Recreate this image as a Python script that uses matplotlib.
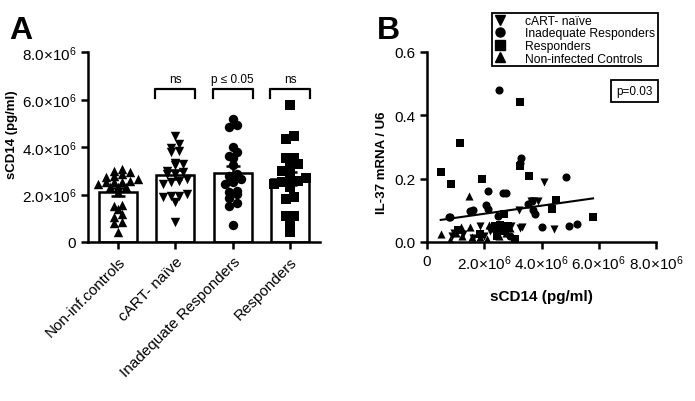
import numpy as np
import matplotlib
matplotlib.use("Agg")
import matplotlib.pyplot as plt
from matplotlib.lines import Line2D

plt.rcParams['font.family'] = ['Liberation Sans', 'DejaVu Sans']
plt.rcParams['mathtext.fontset'] = 'custom'
plt.rcParams['mathtext.rm'] = 'Liberation Sans'
plt.rcParams['mathtext.it'] = 'Liberation Sans:italic'
plt.rcParams['mathtext.bf'] = 'Liberation Sans:bold'

# ---- panel A data (sCD14, pg/ml) ----
groups = ['Non-inf.controls', 'cART- naïve', 'Inadequate Responders', 'Responders']
controls = [3.07e6, 3.00e6, 2.93e6, 2.86e6, 2.79e6, 2.72e6, 2.65e6, 2.58e6, 2.51e6, 2.51e6,
            2.51e6, 2.44e6, 2.30e6, 2.30e6, 2.30e6, 2.09e6, 1.50e6, 1.56e6, 1.39e6, 1.18e6,
            1.04e6, 0.83e6, 0.80e6, 0.43e6]
naive = [4.45e6, 3.94e6, 3.80e6, 3.85e6, 4.13e6, 3.33e6, 3.24e6, 3.28e6, 2.93e6, 2.86e6,
         3.00e6, 2.86e6, 2.58e6, 2.51e6, 2.44e6, 2.65e6, 1.95e6, 1.88e6, 1.67e6, 1.95e6,
         2.02e6, 0.83e6]
inadequate = [4.93e6, 4.83e6, 5.18e6, 3.78e6, 3.52e6, 3.61e6, 3.99e6, 3.24e6, 2.79e6, 2.65e6,
              2.86e6, 2.02e6, 2.16e6, 2.12e6, 2.44e6, 1.84e6, 1.63e6, 1.53e6, 0.72e6, 2.51e6]
responders = [5.77e6, 4.45e6, 4.34e6, 3.52e6, 3.28e6, 3.14e6, 3.52e6, 2.68e6, 2.44e6, 2.30e6,
              2.58e6, 2.58e6, 2.86e6, 3.00e6, 1.81e6, 1.88e6, 1.11e6, 1.08e6, 0.80e6, 0.43e6,
              2.51e6]
group_values = [controls, naive, inadequate, responders]
group_markers = ['^', 'v', 'o', 's']
compare_labels = ['ns', 'p ≤ 0.05', 'ns']

yticks_a = [0, 2e6, 4e6, 6e6, 8e6]
yticklabels_a = ['0', r'2.0$\times10^{6}$', r'4.0$\times10^{6}$', r'6.0$\times10^{6}$', r'8.0$\times10^{6}$']

# ---- panel B data (sCD14 vs IL-37 mRNA / U6) ----
naive_x = [4.10e6, 3.71e6, 3.88e6, 3.62e6, 3.20e6, 3.31e6, 4.44e6, 1.85e6, 0.86e6, 2.20e6,
           3.25e6, 1.25e6, 2.00e6, 2.75e6, 1.60e6, 2.40e6, 0.95e6, 2.95e6]
naive_y = [0.188, 0.128, 0.130, 0.130, 0.100, 0.046, 0.041, 0.052, 0.020, 0.036,
           0.044, 0.025, 0.020, 0.030, 0.012, 0.045, 0.030, 0.050]
inad_x = [2.52e6, 3.28e6, 3.25e6, 4.86e6, 2.14e6, 2.65e6, 2.75e6, 2.06e6, 2.12e6, 1.62e6,
          1.50e6, 3.54e6, 3.66e6, 3.77e6, 4.00e6, 4.97e6, 5.23e6, 0.76e6, 0.82e6, 2.49e6,
          2.90e6, 3.72e6]
inad_y = [0.480, 0.265, 0.250, 0.204, 0.162, 0.155, 0.156, 0.117, 0.105, 0.101,
          0.098, 0.120, 0.130, 0.088, 0.046, 0.050, 0.057, 0.078, 0.078, 0.083,
          0.020, 0.100]
resp_x = [0.48e6, 0.84e6, 1.15e6, 1.92e6, 3.25e6, 3.26e6, 3.55e6, 4.51e6, 4.37e6, 5.80e6,
          2.68e6, 1.09e6, 2.38e6, 2.55e6, 2.84e6, 2.43e6, 3.07e6, 2.60e6, 1.85e6]
resp_y = [0.220, 0.183, 0.313, 0.200, 0.443, 0.240, 0.209, 0.134, 0.104, 0.078,
          0.090, 0.039, 0.052, 0.055, 0.052, 0.020, 0.010, 0.035, 0.025]
ctrl_x = [0.49e6, 1.47e6, 1.19e6, 1.50e6, 1.21e6, 1.56e6, 2.08e6, 2.50e6, 2.75e6, 0.80e6,
          2.15e6, 1.00e6, 2.35e6, 2.90e6, 1.85e6]
ctrl_y = [0.025, 0.146, 0.046, 0.048, 0.020, 0.015, 0.010, 0.020, 0.030, 0.005,
          0.055, 0.030, 0.045, 0.045, 0.015]
legend_labels = ['cART- naïve', 'Inadequate Responders', 'Responders', 'Non-infected Controls']
p_text = 'p=0.03'

xticks_b = [0, 2e6, 4e6, 6e6, 8e6]
xticklabels_b = ['0', r'2.0$\times10^{6}$', r'4.0$\times10^{6}$', r'6.0$\times10^{6}$', r'8.0$\times10^{6}$']
yticks_b = [0.0, 0.2, 0.4, 0.6]


def swarm_offsets(values, binw=0.3e6, step=0.14):
    # simple column scatter: spread points that share a value band
    vals = np.asarray(values)
    offs = np.zeros(len(vals))
    bins = np.floor(vals / binw)
    for b in np.unique(bins):
        idx = np.where(bins == b)[0]
        idx = idx[np.argsort(vals[idx])]
        n = len(idx)
        offs[idx] = (np.arange(n) - (n - 1) / 2.0) * step
    return offs


def style_axis(ax):
    for side in ['top', 'right']:
        ax.spines[side].set_visible(False)
    for side in ['left', 'bottom']:
        ax.spines[side].set_linewidth(1.8)
    ax.tick_params(direction='out', length=5, width=1.8, labelsize=11, colors='black')


fig = plt.figure(figsize=(6.95, 4.02), dpi=100)

# ---------------- panel A ----------------
axA = fig.add_axes([88 / 695, 1 - 243 / 402, 232 / 695, 190 / 402])
xpos = np.arange(len(groups))
means = [np.mean(v) for v in group_values]
sems = [np.std(v, ddof=1) / np.sqrt(len(v)) for v in group_values]
axA.bar(xpos, means, width=0.66, color='white', edgecolor='black', linewidth=1.8, zorder=1)
for i, vals in enumerate(group_values):
    xs = i + swarm_offsets(vals)
    axA.scatter(xs, vals, marker=group_markers[i], s=46, color='black', linewidths=0, zorder=2)
axA.errorbar(xpos, means, yerr=sems, fmt='none', ecolor='black', elinewidth=1.8,
             capsize=5, capthick=1.8, zorder=3)
for i, lab in enumerate(compare_labels):
    c = i + 1
    axA.plot([c - 0.35, c - 0.35, c + 0.35, c + 0.35], [6.05e6, 6.45e6, 6.45e6, 6.05e6],
             color='black', lw=1.6, clip_on=False)
    axA.text(c, 6.62e6, lab, ha='center', va='bottom', fontsize=8.5)
axA.set_xlim(-0.52, 3.52)
axA.set_ylim(0, 8e6)
axA.set_yticks(yticks_a)
axA.set_yticklabels(yticklabels_a)
axA.set_xticks(xpos)
axA.set_xticklabels(groups, rotation=45, ha='right', rotation_mode='anchor', fontsize=12.5)
style_axis(axA)
axA.set_ylabel('sCD14 (pg/ml)', fontsize=9.5, fontweight='bold')
axA.yaxis.set_label_coords(-0.30, 0.57)

# ---------------- panel B ----------------
axB = fig.add_axes([427 / 695, 1 - 243 / 402, 229 / 695, 190 / 402])
ms = 34
axB.scatter(naive_x, naive_y, marker='v', s=ms, color='black', linewidths=0, zorder=2)
axB.scatter(inad_x, inad_y, marker='o', s=ms, color='black', linewidths=0, zorder=2)
axB.scatter(resp_x, resp_y, marker='s', s=ms, color='black', linewidths=0, zorder=2)
axB.scatter(ctrl_x, ctrl_y, marker='^', s=ms, color='black', linewidths=0, zorder=2)

all_x = np.array(naive_x + inad_x + resp_x + ctrl_x)
all_y = np.array(naive_y + inad_y + resp_y + ctrl_y)
slope, intercept = np.polyfit(all_x, all_y, 1)
fx = np.array([all_x.min(), all_x.max()])
axB.plot(fx, slope * fx + intercept, color='black', lw=1.5, zorder=3)

axB.set_xlim(0, 8e6)
axB.set_ylim(0, 0.6)
axB.set_xticks(xticks_b)
axB.set_xticklabels(xticklabels_b)
axB.set_yticks(yticks_b)
axB.set_yticklabels([f'{t:.1f}' for t in yticks_b])
style_axis(axB)
axB.set_xlabel('sCD14 (pg/ml)', fontsize=11, fontweight='bold')
axB.xaxis.set_label_coords(0.5, -0.25)
axB.set_ylabel('IL-37 mRNA / U6', fontsize=9.5, fontweight='bold')
axB.yaxis.set_label_coords(-0.17, 0.42)
axB.text(0.908, 0.795, p_text, transform=axB.transAxes, ha='center', va='center', fontsize=8.5,
         bbox=dict(boxstyle='square,pad=0.45', facecolor='white', edgecolor='black', lw=1.3))

handles = [Line2D([], [], marker=m, color='black', linestyle='none', markersize=6.5)
           for m in ['v', 'o', 's', '^']]
leg = fig.legend(handles, legend_labels, loc='upper left',
                 bbox_to_anchor=(492 / 695, 1 - 67 / 402, 166 / 695, 53 / 402), mode='expand',
                 borderaxespad=0, fancybox=False, edgecolor='black', framealpha=1,
                 handlelength=1.0, handletextpad=1.6, labelspacing=0.05, borderpad=0.15,
                 fontsize=8.7)
leg.get_frame().set_linewidth(1.3)

fig.text(0.013, 0.96, 'A', fontsize=23, fontweight='bold', va='top')
fig.text(0.542, 0.96, 'B', fontsize=23, fontweight='bold', va='top')

fig.savefig('out.png', dpi=100)
